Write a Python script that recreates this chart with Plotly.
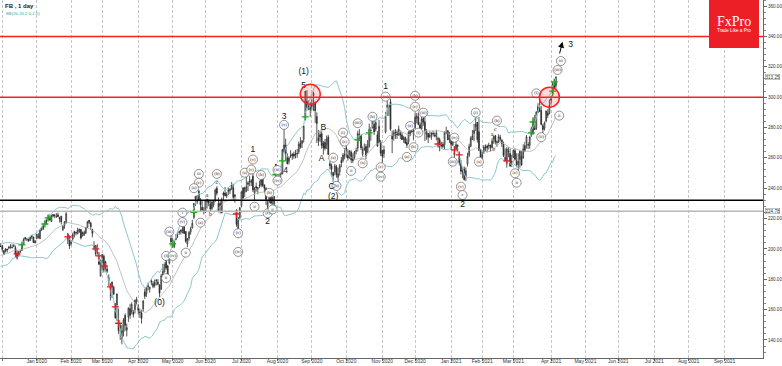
import numpy as np
import pandas as pd
import plotly.graph_objects as go

# ---------------- daily OHLC (FB), one small list per month ----------------
nov19 = [(192.9,194.0,190.9,193.6),(194.5,197.4,193.8,194.7),(194.7,196.5,193.3,194.3),(194.0,194.1,190.8,191.6),
         (192.1,193.7,190.0,190.4),(189.8,191.0,188.4,190.8),(189.0,190.2,188.3,189.3),(189.8,195.0,189.6,194.5),
         (193.5,194.4,192.2,193.2),(193.0,194.3,192.0,193.5),(193.9,195.8,193.3,195.1),(195.0,198.0,194.5,197.4),
         (198.0,200.0,196.8,200.0),(199.5,200.2,195.3,197.5),(197.3,199.0,196.9,197.9),(198.4,199.6,197.6,198.8),
         (199.5,200.9,199.0,199.8),(199.9,200.4,198.3,199.0),(199.6,203.1,199.0,202.0),(201.6,203.8,201.2,201.6)]
dec19 = [(202.1,202.2,198.1,199.7),(196.6,199.1,195.9,198.8),(199.9,200.4,197.6,198.7),(199.9,200.0,197.6,199.4),
         (200.5,202.0,199.7,201.1),(200.6,203.1,200.3,201.3),(200.6,202.9,200.4,200.9),(201.7,203.0,201.1,202.3),
         (200.9,202.2,194.2,196.8),(197.0,197.3,193.0,194.1),(195.4,198.6,195.0,197.9),(198.3,199.4,197.3,198.4),
         (199.0,203.2,198.8,202.5),(202.9,207.1,202.6,206.1),(207.5,207.9,205.5,206.3),(206.8,206.9,205.0,206.2),
         (206.3,206.8,205.0,205.1),(205.6,207.8,205.3,207.8),(208.7,208.9,206.5,208.1),(207.9,207.9,203.9,204.4),
         (203.9,205.6,203.7,205.3)]
jan20 = [(206.8,209.8,206.3,209.8),(207.2,210.4,206.9,208.7),(206.7,212.8,206.5,212.6),(212.8,214.6,211.8,213.1),
         (213.0,216.2,212.6,215.2),(217.0,218.4,215.5,218.3),(219.0,219.9,216.4,218.1),(219.6,221.9,219.2,221.9),
         (220.3,222.6,218.6,219.1),(218.0,222.6,217.9,221.8),(222.6,222.8,220.8,221.8),(222.1,222.9,220.2,222.1),
         (221.0,223.6,220.6,221.4),(222.4,223.9,220.9,221.3),(220.8,221.1,217.4,219.8),(221.5,221.8,216.1,217.9),
         (212.7,215.7,211.7,214.9),(215.7,218.2,213.3,217.8),(217.3,224.2,216.6,223.2),(206.5,210.6,203.2,209.5),
         (208.4,208.7,199.9,201.9)]
feb20 = [(203.4,205.8,202.2,204.2),(206.6,210.6,205.4,209.5),(211.4,212.0,207.5,210.1),(210.5,211.2,208.9,210.9),
         (210.1,213.9,209.6,212.3),(211.5,213.2,210.5,213.1),(212.7,213.1,206.2,207.2),(208.6,211.4,208.2,210.8),
         (209.4,212.1,208.5,210.9),(210.4,214.4,210.0,214.2),(214.1,218.3,213.9,217.8),(218.9,219.0,216.4,217.5),
         (217.0,217.9,212.4,214.6),(212.7,213.3,207.6,210.2),(201.9,205.0,199.0,200.7),(202.1,202.6,195.4,196.8),
         (197.5,203.1,196.0,197.2),(191.5,195.6,189.6,189.8),(182.1,192.9,181.8,192.5)]
mar20 = [(194.2,196.5,186.2,196.4),(195.0,196.2,184.4,185.9),(187.5,191.9,184.8,191.8),(186.7,189.3,184.1,185.2),
         (179.0,183.1,175.6,181.1),(169.4,175.2,166.0,169.5),(174.9,178.3,167.5,178.2),(174.7,175.8,169.5,170.2),
         (159.1,164.0,154.1,154.5),(163.1,170.5,152.4,170.3),(153.1,160.7,144.0,146.2),(147.9,151.1,140.0,149.4),
         (140.9,149.9,137.1,146.0),(145.2,154.4,142.3,153.1),(156.1,157.5,146.0,149.7),(146.4,150.7,142.3,148.1),
         (155.2,161.4,151.9,161.0),(160.5,163.8,154.0,156.2),(158.8,164.8,156.9,163.3),(158.2,159.7,154.8,156.8),
         (160.0,166.8,157.5,166.0),(165.1,168.4,163.3,166.8)]
apr20 = [(161.6,163.6,156.6,159.6),(158.4,160.5,154.5,158.2),(157.8,159.9,150.8,154.2),(160.4,166.2,158.5,165.6),
         (171.6,173.6,167.0,168.8),(170.5,175.0,168.4,174.3),(175.8,177.8,172.6,175.2),(173.7,175.0,171.2,174.7),
         (178.9,180.0,176.0,178.2),(175.2,178.7,174.1,177.0),(177.9,179.8,174.5,176.0),(179.5,180.0,175.9,179.2),
         (176.6,180.1,176.0,178.2),(176.3,176.4,168.3,170.8),(173.5,183.5,172.9,182.3),(183.1,190.0,182.6,185.1),
         (184.8,190.6,184.5,190.1),(192.7,193.2,186.3,187.5),(188.7,189.5,182.6,182.9),(190.6,196.3,189.8,194.2),
         (206.9,209.7,201.6,204.7)]
may20 = [(201.6,207.1,200.8,202.3),(201.6,206.0,200.5,205.3),(206.2,209.8,205.6,207.1),(208.3,211.1,207.2,208.5),
         (210.8,212.1,209.2,211.3),(211.3,212.8,209.5,212.4),(210.7,215.4,210.3,213.2),(214.4,216.1,210.1,210.1),
         (211.5,211.7,204.0,205.1),(203.3,207.0,201.1,206.8),(207.1,211.7,205.4,210.9),(211.1,214.6,209.4,213.2),
         (213.7,219.1,213.6,216.9),(220.9,230.1,219.6,230.0),(234.6,234.7,228.2,231.4),(231.0,235.4,229.5,234.9),
         (237.9,238.9,231.6,232.2),(232.1,233.4,224.4,229.1),(227.5,232.0,225.1,225.5),(225.2,227.5,222.7,225.1)]
jun20 = [(224.6,232.4,223.6,231.9),(230.9,233.0,226.6,232.7),(232.1,232.6,228.1,230.2),(229.6,231.6,224.7,226.3),
         (226.7,231.4,225.6,230.8),(229.0,231.6,227.4,231.4),(231.5,239.8,231.0,238.7),(240.0,241.3,235.3,236.7),
         (229.9,233.8,224.5,224.4),(229.9,231.8,223.3,228.6),(223.7,233.8,223.5,232.5),(236.8,237.8,231.4,235.5),
         (236.8,240.8,234.6,235.0),(235.0,237.4,233.5,235.7),(237.8,240.8,235.6,238.8),(238.3,240.1,236.1,239.2),
         (239.8,244.0,238.7,242.2),(240.3,242.8,231.9,234.0),(234.5,235.8,230.4,235.7),(225.7,226.0,214.6,216.1),
         (209.8,220.8,207.1,220.6),(220.6,227.5,219.5,227.1)]
jul20 = [(228.5,238.0,227.5,237.6),(240.1,240.7,233.2,233.4),(237.3,241.0,234.3,240.3),(238.1,248.0,237.4,240.9),
         (242.5,244.6,238.1,243.6),(244.7,248.0,241.3,244.5),(243.7,246.0,241.4,245.1),(247.9,253.0,237.5,239.0),
         (236.9,240.7,231.8,239.7),(241.1,243.8,237.7,240.2),(239.6,240.8,236.0,240.3),(241.8,245.0,240.0,242.0),
         (241.9,247.0,240.6,245.4),(247.5,248.7,240.7,241.8),(242.1,242.5,237.3,239.9),(239.8,240.7,229.0,232.6),
         (228.0,232.3,225.5,230.7),(231.3,235.5,230.2,233.5),(234.4,235.0,229.8,230.1),(228.7,234.5,228.2,233.3),
         (227.9,234.9,226.6,234.5),(255.8,255.9,245.2,253.7)]
aug20 = [(252.8,255.0,249.0,252.0),(251.3,254.2,248.0,249.8),(250.6,252.1,246.6,249.1),(249.4,266.0,249.3,265.3),
         (264.1,278.9,263.4,268.4),(268.4,272.6,258.0,263.0),(260.0,263.0,255.6,256.1),(257.5,261.1,255.7,259.9),
         (261.3,265.0,259.9,261.3),(262.3,263.2,258.7,261.2),(262.5,264.1,259.4,261.2),(262.5,265.2,259.6,262.3),
         (262.8,265.8,260.0,262.6),(264.0,270.7,262.5,269.0),(269.6,273.6,266.0,267.0),(269.5,271.4,266.5,271.4),
         (272.2,281.6,270.0,280.8),(286.0,304.0,284.7,303.9),(297.2,304.6,291.2,293.2),(294.6,297.7,291.4,293.7),
         (291.5,296.7,287.0,293.2)]
sep20 = [(293.8,299.0,291.4,295.4),(301.0,303.5,290.8,302.5),(296.1,297.3,283.0,291.1),(287.3,290.0,269.8,282.7),
         (273.2,278.4,267.8,271.2),(275.3,277.9,270.5,273.7),(275.9,277.5,266.1,268.1),(269.7,271.1,262.1,266.6),
         (270.1,272.3,264.9,266.2),(268.8,274.7,265.8,272.4),(273.7,275.1,262.0,262.2),(256.1,257.8,252.3,254.8),
         (254.8,256.2,247.6,252.5),(250.3,250.8,244.1,248.2),(250.8,256.0,248.5,254.7),(253.9,255.4,246.9,249.0),
         (247.2,253.5,244.1,249.5),(250.8,256.0,248.3,254.8),(258.2,260.5,253.8,256.8),(258.3,263.1,257.0,261.8),
         (262.0,266.4,259.0,261.9)]
oct20 = [(265.5,268.3,260.2,266.6),(262.0,265.6,258.2,259.9),(261.0,265.0,259.3,264.6),(263.7,264.9,256.5,258.7),
         (259.9,262.9,256.7,258.1),(260.0,264.6,258.9,263.8),(264.6,266.7,262.3,264.5),(266.5,277.8,264.2,276.0),
         (275.2,278.9,271.1,275.0),(274.9,275.1,265.2,266.6),(262.3,267.5,260.9,265.5),(265.7,269.5,264.6,265.9),
         (267.4,269.1,259.0,261.4),(264.0,271.7,263.3,267.6),(267.6,282.5,266.6,278.7),(278.0,280.2,271.3,278.1),
         (279.9,285.0,279.4,284.8),(282.2,288.0,275.1,277.1),(279.0,284.6,277.4,283.3),(275.2,277.6,267.4,267.7),
         (270.2,285.0,270.0,280.8),(270.4,271.8,261.2,263.1)]
nov20 = [(264.8,265.4,257.0,261.1),(262.7,268.0,259.9,265.3),(277.0,290.3,276.1,287.4),(293.2,297.9,287.6,294.7),
         (294.6,294.8,287.5,293.4),(297.0,299.0,277.8,278.8),(275.0,278.0,263.0,272.4),(274.7,278.4,271.3,276.5),
         (276.9,279.0,272.5,275.1),(275.0,278.0,272.4,277.0),(274.9,281.2,274.7,278.9),(276.0,278.0,272.4,275.0),
         (275.0,276.9,271.7,272.0),(272.0,274.5,270.0,272.9),(273.6,273.9,269.2,269.7),(270.2,272.7,266.5,268.4),
         (270.6,277.5,269.0,276.9),(277.3,278.4,274.3,275.6),(277.0,280.4,276.6,277.8),(277.7,279.0,271.5,277.0)]
dec20 = [(280.0,289.8,278.9,286.6),(286.0,289.5,282.7,287.5),(287.0,289.8,281.5,281.9),(281.7,283.3,276.3,279.7),
         (279.2,288.5,278.2,285.6),(286.0,286.7,281.1,283.4),(283.7,287.6,271.0,277.9),(275.5,278.9,271.9,277.1),
         (276.1,276.2,269.7,273.6),(274.8,277.5,273.0,274.2),(276.3,276.7,271.9,275.6),(276.1,277.9,274.0,275.7),
         (275.0,276.7,273.6,274.5),(274.0,278.5,271.5,276.4),(272.0,273.9,269.3,272.8),(272.0,273.3,264.3,267.1),
         (268.0,270.7,266.0,268.1),(268.9,270.4,266.2,267.4),(268.7,277.3,265.7,277.0),(276.8,280.5,275.5,276.8),
         (277.9,278.0,271.7,271.9),(272.0,277.1,269.8,273.2)]
jan21 = [(274.8,275.0,265.2,268.9),(268.3,272.4,268.2,271.0),(262.0,267.8,260.0,263.3),(265.9,271.6,265.2,268.7),
         (268.3,268.8,263.8,267.6),(260.0,262.6,255.0,256.8),(256.2,258.5,249.1,251.1),(251.5,254.1,246.5,251.1),
         (252.6,254.3,245.1,245.6),(247.6,253.7,244.6,251.4),(256.0,263.4,254.3,261.1),(261.6,269.3,260.5,267.5),
         (267.6,274.2,267.0,272.9),(272.1,278.3,271.7,274.5),(276.0,282.4,270.9,278.0),(280.5,287.0,277.6,282.1),
         (283.4,283.6,270.0,272.1),(277.2,286.8,264.6,265.0),(265.5,266.0,254.8,258.3)]
feb21 = [(259.5,264.0,257.0,262.0),(264.0,268.5,262.5,267.1),(266.9,268.8,264.5,266.7),(267.8,268.7,263.5,266.5),
         (268.4,270.0,265.5,268.1),(268.4,268.5,264.2,266.7),(267.0,272.8,266.3,271.0),(272.5,274.8,269.3,274.0),
         (274.5,275.1,268.8,270.5),(270.0,271.4,267.2,270.5),(270.5,275.6,269.8,274.0),(272.3,275.1,270.8,273.6),
         (271.5,272.5,267.1,269.4),(269.0,270.7,260.5,261.6),(258.0,266.1,258.0,260.3),(258.0,267.0,253.5,265.9),
         (264.0,266.9,260.4,264.3),(262.9,266.1,254.0,254.7),(257.0,262.0,254.0,257.6)]
mar21 = [(260.3,265.6,260.2,264.9),(264.7,266.0,258.1,259.0),(258.0,263.0,253.7,255.4),(255.5,263.0,251.0,257.6),
         (259.0,264.9,253.5,264.3),(261.0,264.5,254.8,255.3),(260.0,268.9,259.4,265.7),(268.0,270.5,263.8,264.9),
         (270.4,275.0,266.1,273.9),(268.7,270.4,265.8,268.4),(268.3,274.2,266.0,273.8),(274.9,280.6,274.0,279.3),
         (276.0,286.8,275.2,284.0),(279.5,288.3,278.2,278.6),(279.3,290.9,278.3,290.1),(289.8,296.0,289.6,293.5),
         (293.5,299.7,290.1,290.6),(291.2,294.3,281.3,282.1),(281.1,282.3,274.3,278.7),(279.5,283.9,278.0,283.0),
         (284.2,291.2,283.3,290.8),(289.5,292.0,286.1,288.0),(289.4,298.5,288.6,294.5)]
apr21 = [(298.1,300.8,295.0,298.7),(302.2,309.8,300.5,308.9),(308.0,311.5,305.5,306.2),(307.5,313.8,305.2,313.1)]

holidays = ["2019-11-28", "2019-12-25", "2020-01-01", "2020-01-20", "2020-02-17", "2020-04-10",
            "2020-05-25", "2020-07-03", "2020-09-07", "2020-11-26", "2020-12-25", "2021-01-01",
            "2021-01-18", "2021-02-15", "2021-04-02", "2021-05-31", "2021-07-05", "2021-09-06"]

# horizontal levels
resistance_levels = [340.0, 300.0]
support_level = 232.0
prior_level = 224.78
last_price = 313.25

# buy / sell signal crosses
buy_dates = ["2019-12-18", "2020-01-09", "2020-01-13", "2020-04-29", "2020-05-01", "2020-05-20", "2020-07-31",
             "2020-08-06", "2020-08-26", "2020-10-12", "2020-10-21", "2021-03-16", "2021-03-17", "2021-04-05",
             "2021-04-06"]
buy_prices = [202.6, 216.4, 220.4, 194.0, 203.3, 224.0, 249.0, 258.0, 287.0, 271.8, 276.4, 276.4, 283.6, 304.0, 310.0]
sell_dates = ["2019-12-13", "2020-01-30", "2020-02-25", "2020-02-27", "2020-03-03", "2020-03-09", "2020-03-12",
              "2020-03-16", "2020-06-26", "2020-12-21", "2021-01-06", "2021-01-11", "2021-02-23"]
sell_prices = [196.7, 207.9, 200.0, 195.4, 188.8, 175.0, 161.8, 151.0, 223.0, 269.1, 265.2, 261.9, 258.0]

# circled Elliott-wave labels
circ_text = ["i", "(v)", "(iii)", "(i)", "(iv)", "ii", "ii", "iii", "(c)", "(a)", "(b)", "(a)", "(c)", "(iv)",
             "(a)", "(c)", "(v)", "(b)", "ii", "(b)", "(c)", "ii", "(iii)", "(iv)", "(v)", "(a)", "(b)", "(i)",
             "(c)", "ii", "(iii)", "(a)", "(b)", "(c)", "(iv)", "(v)", "(a)", "(b)", "(a)", "(b)", "(c)", "(i)",
             "(iii)", "(iv)", "(iii)", "(v)", "c", "(i)", "(a)", "(b)", "(c)", "ii", "(i)", "(ii)", "ii", "iii",
             "(iii)"]
circ_dates = ["2020-05-11", "2020-05-11", "2020-04-29", "2020-04-27", "2020-05-01", "2020-04-27", "2020-05-13",
              "2020-05-26", "2020-05-26", "2020-05-20", "2020-06-10", "2020-05-27", "2020-06-29", "2020-06-29",
              "2020-07-06", "2020-07-10", "2020-07-13", "2020-07-20", "2020-07-14", "2020-07-27", "2020-07-24",
              "2020-07-29", "2020-08-03", "2020-08-03", "2020-08-07", "2020-09-21", "2020-09-23", "2020-09-29",
              "2020-09-30", "2020-10-06", "2020-10-12", "2020-10-15", "2020-10-23", "2020-10-30", "2020-10-30",
              "2020-11-04", "2020-11-23", "2020-11-30", "2020-11-25", "2020-12-01", "2020-12-01", "2020-12-03",
              "2020-12-08", "2021-01-06", "2021-01-05", "2021-01-12", "2021-01-13", "2021-01-26", "2021-01-28",
              "2021-02-12", "2021-03-02", "2021-03-03", "2021-03-19", "2021-03-24", "2021-04-09", "2021-04-12",
              "2021-04-08"]
circ_prices = [223.9, 217.6, 211.4, 195.4, 195.4, 180.7, 197.5, 249.4, 243.6, 240.0, 249.4, 217.3, 210.3, 198.0,
               250.2, 252.3, 258.9, 248.7, 227.8, 236.9, 223.5, 226.0, 252.0, 245.0, 281.7, 260.1, 241.5, 276.6,
               270.7, 251.4, 282.8, 256.4, 287.1, 253.8, 247.6, 300.3, 260.6, 267.0, 281.0, 300.9, 293.7, 276.6,
               289.8, 273.3, 257.5, 241.0, 235.5, 289.8, 257.5, 284.5, 249.8, 243.6, 302.5, 273.6, 287.8, 323.8,
               317.9]

# plain wave-degree labels
wave_text = ["(0)", "1", "2", "3", "4", "5", "(1)", "A", "B", "C", "(2)", "1", "2", "3"]
wave_dates = ["2020-04-21", "2020-07-13", "2020-07-24", "2020-08-07", "2020-08-10", "2020-08-25", "2020-08-25",
              "2020-09-10", "2020-09-11", "2020-09-18", "2020-09-21", "2020-11-04", "2021-01-13", "2021-04-20"]
wave_prices = [164.6, 265.2, 217.6, 287.1, 251.6, 307.2, 316.4, 259.1, 279.5, 241.0, 234.4, 306.5, 229.0, 334.4]

small_text = ["c", "a", "b", "c", "a", "b"]
small_dates = ["2020-06-10", "2020-06-02", "2020-06-04", "2021-02-11", "2021-02-09", "2021-02-10"]
small_prices = [243.6, 235.2, 222.4, 279.0, 275.1, 265.2]

circle_dates = ["2020-08-31", "2021-03-31"]
circle_prices = [301.9, 300.0]

arrow_from = ("2021-04-09", 327.8)
arrow_to = ("2021-04-13", 336.5)

# ---------------- trading-day axis ----------------
months = [nov19, dec19, jan20, feb20, mar20, apr20, may20, jun20, jul20, aug20, sep20, oct20, nov20, dec20,
          jan21, feb21, mar21, apr21]
rows = [r for m in months for r in m]
cal = pd.bdate_range("2019-11-01", "2021-10-29")
cal = cal[~cal.isin(pd.to_datetime(holidays))]
origin = cal.get_loc(pd.Timestamp("2019-12-02"))


def xi(d):
    return cal.get_loc(pd.Timestamp(d)) - origin


n = len(rows)
assert cal[n - 1] == pd.Timestamp("2021-04-07"), cal[n - 1]
x = np.arange(n) - origin
o = [r[0] for r in rows]
h = [r[1] for r in rows]
l = [r[2] for r in rows]
c = pd.Series([r[3] for r in rows])

mid = c.rolling(20).mean()
sd = c.rolling(20).std(ddof=0)
up = mid + 2 * sd
dn = mid - 2 * sd

fig = go.Figure()
band_col = "#8cc8cc"
fig.add_trace(go.Scatter(x=x, y=up, mode="lines", line=dict(color=band_col, width=1), hoverinfo="skip"))
fig.add_trace(go.Scatter(x=x, y=dn, mode="lines", line=dict(color=band_col, width=1), hoverinfo="skip"))
fig.add_trace(go.Scatter(x=x, y=mid, mode="lines", line=dict(color="#a9b4b4", width=0.8), hoverinfo="skip"))

fig.add_trace(go.Candlestick(
    x=x, open=o, high=h, low=l, close=c,
    increasing=dict(line=dict(color="#2a2a2a", width=0.8), fillcolor="#ffffff"),
    decreasing=dict(line=dict(color="#2a2a2a", width=0.8), fillcolor="#2a2a2a"),
    whiskerwidth=0, hoverinfo="skip"))

fig.add_trace(go.Scatter(x=[xi(d) for d in buy_dates], y=buy_prices, mode="markers",
                         marker=dict(symbol="cross-thin", size=5, line=dict(color="#1fa81f", width=1.3))))
fig.add_trace(go.Scatter(x=[xi(d) for d in sell_dates], y=sell_prices, mode="markers",
                         marker=dict(symbol="cross-thin", size=5, line=dict(color="#e02020", width=1.3))))

fig.add_trace(go.Scatter(x=[xi(d) for d in circ_dates], y=circ_prices, mode="markers+text", text=circ_text,
                         textposition="middle center", cliponaxis=False,
                         textfont=dict(size=4.5, color="#222", family="Liberation Serif"),
                         marker=dict(symbol="circle", size=9, color="white", line=dict(color="#666", width=0.7))))
fig.add_trace(go.Scatter(x=[xi(d) for d in wave_dates], y=wave_prices, mode="text", text=wave_text,
                         textposition="middle center",
                         textfont=dict(size=8.5, color="#111", family="Liberation Sans")))
fig.add_trace(go.Scatter(x=[xi(d) for d in small_dates], y=small_prices, mode="text", text=small_text,
                         textposition="middle center",
                         textfont=dict(size=6, color="#222", family="Liberation Serif")))

# horizontal levels
for lv in resistance_levels:
    fig.add_shape(type="line", xref="paper", x0=0, x1=1, y0=lv, y1=lv, line=dict(color="#ff1f1f", width=1.5))
fig.add_shape(type="line", xref="paper", x0=0, x1=1, y0=support_level, y1=support_level,
              line=dict(color="#000000", width=1.6))
fig.add_shape(type="line", xref="paper", x0=0, x1=1, y0=prior_level, y1=prior_level,
              line=dict(color="#b8b8b8", width=1.4))

# highlight circles
for d, p in zip(circle_dates, circle_prices):
    fig.add_shape(type="circle", xsizemode="pixel", ysizemode="pixel", xanchor=xi(d), yanchor=p,
                  x0=-10, x1=10, y0=-10, y1=10, fillcolor="rgba(255,60,60,0.18)",
                  line=dict(color="#ff2020", width=1.5))

fig.add_annotation(x=xi(arrow_to[0]), y=arrow_to[1], ax=xi(arrow_from[0]), ay=arrow_from[1],
                   xref="x", yref="y", axref="x", ayref="y", text="", showarrow=True,
                   arrowhead=2, arrowsize=1.2, arrowwidth=1, arrowcolor="#000")

# FxPro logo
W, H = 763.0, 358.0
fig.add_shape(type="rect", xref="paper", yref="paper", x0=709 / W, x1=759 / W, y0=1 - 48 / H, y1=1,
              fillcolor="#ec1f26", line=dict(width=0), layer="above")
fig.add_annotation(xref="paper", yref="paper", x=734 / W, y=1 - 22 / H, xanchor="center", yanchor="middle",
                   text="FxPro", showarrow=False,
                   font=dict(family="Liberation Serif", size=14, color="white"))
fig.add_annotation(xref="paper", yref="paper", x=734 / W, y=1 - 31 / H, xanchor="center", yanchor="middle",
                   text="Trade Like a Pro", showarrow=False,
                   font=dict(family="Liberation Sans", size=4.6, color="white"))

# header
fig.add_annotation(xref="paper", yref="paper", x=3 / W, y=1 - 1 / H, xanchor="left", yanchor="top",
                   text="<b>FB , 1 day</b>", showarrow=False,
                   font=dict(family="Liberation Sans", size=6, color="#222"))
fig.add_annotation(xref="paper", yref="paper", x=4 / W, y=1 - 9 / H, xanchor="left", yanchor="top",
                   text="BB(20,20,2.0,2.0)", showarrow=False,
                   font=dict(family="Liberation Sans", size=4.3, color="#3f9da2"))

# right-axis price tags
for v in (last_price, prior_level):
    fig.add_annotation(xref="paper", yref="y", x=1, y=v, xanchor="left", yanchor="middle", xshift=2,
                       text=f"{v:.2f}",
                       showarrow=False, font=dict(family="Liberation Sans", size=4.6, color="#333"),
                       bgcolor="white", bordercolor="#888", borderwidth=0.5, borderpad=0)

# month ticks
tickvals, ticktext = [], []
for m in pd.date_range("2019-12-01", "2021-09-01", freq="MS"):
    first = cal[cal >= m][0]
    tickvals.append(cal.get_loc(first) - origin)
    ticktext.append("" if m.year == 2019 else m.strftime("%b %Y"))

fig.update_layout(
    width=782, height=366, margin=dict(l=0, r=19, t=0, b=8, autoexpand=False),
    paper_bgcolor="white", plot_bgcolor="white", showlegend=False,
    xaxis=dict(range=[-1.4, 464.4], tickvals=tickvals, ticktext=ticktext, showgrid=True,
               gridcolor="#c6c6c6", gridwidth=1, griddash="3px,2px", ticks="outside", ticklen=2,
               ticklabelstandoff=-4,
               tickcolor="#666", tickfont=dict(family="Liberation Sans", size=5, color="#333"),
               showline=True, linecolor="#666", linewidth=1, mirror=True, zeroline=False,
               rangeslider=dict(visible=False), fixedrange=True),
    yaxis=dict(range=[128.1, 364], side="right", dtick=20, tick0=0, tickformat=".2f", showgrid=False,
               ticks="outside", ticklen=3, tickcolor="#666",
               minor=dict(dtick=4, ticks="outside", ticklen=1.5, tickcolor="#888"),
               tickfont=dict(family="Liberation Sans", size=4.6, color="#333"),
               showline=True, linecolor="#666", linewidth=1, mirror=True, zeroline=False),
)

fig.write_html("out.html", config={"displayModeBar": False},
               post_script="document.body.style.margin='0';document.body.style.padding='0';")
